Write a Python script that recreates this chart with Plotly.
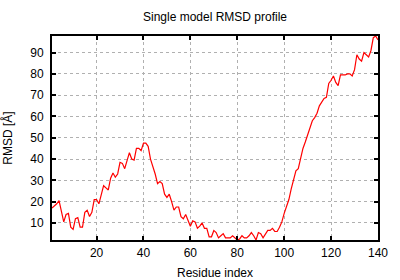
import plotly.graph_objects as go

residue = list(range(1, 141))
rmsd = [
    17.0, 18.0, 19.0, 20.5, 15.0, 10.5, 14.0, 14.5, 8.0, 7.0,
    12.0, 12.5, 8.0, 8.0, 15.0, 16.0, 13.0, 15.0, 21.0, 21.0,
    19.0, 23.0, 27.5, 26.5, 25.5, 31.0, 33.5, 31.5, 33.0, 38.5,
    38.0, 35.5, 39.0, 43.0, 40.0, 39.5, 45.0, 45.0, 44.0, 47.5,
    47.5, 46.0, 40.0, 37.0, 33.0, 28.5, 29.5, 28.5, 23.5, 22.0,
    23.5, 20.0, 16.0, 17.5, 17.5, 13.0, 12.0, 14.0, 11.5, 8.5,
    11.0, 10.5, 7.5, 8.5, 10.0, 7.5, 7.5, 3.5, 3.5, 6.5,
    5.5, 3.0, 4.0, 5.0, 3.0, 3.0, 3.0, 4.0, 3.0, 2.0,
    2.5, 4.0, 3.0, 3.0, 4.0, 5.5, 4.0, 2.0, 5.5, 5.0,
    3.0, 4.5, 6.5, 6.5, 7.5, 6.0, 6.0, 8.0, 10.5, 14.5,
    18.0, 21.0, 26.0, 31.0, 34.5, 35.5, 41.0, 45.0, 48.0, 51.0,
    55.0, 58.0, 59.5, 61.5, 65.0, 67.0, 68.5, 69.0, 75.5, 77.0,
    79.0, 76.0, 74.5, 79.5, 79.5, 79.5, 80.0, 80.0, 79.0, 82.0,
    89.0, 87.0, 86.0, 90.0, 89.0, 88.0, 91.0, 97.0, 97.8, 96.0,
]
x_ticks = [20, 40, 60, 80, 100, 120, 140]
y_ticks = [10, 20, 30, 40, 50, 60, 70, 80, 90]

font = "Liberation Sans, Arial, Helvetica, sans-serif"

fig = go.Figure()
fig.add_trace(go.Scatter(x=residue, y=rmsd, mode="lines",
                         line=dict(color="#ff0000", width=1.2),
                         showlegend=False, hoverinfo="skip"))

axis_common = dict(
    showline=True, linecolor="black", linewidth=2, mirror="allticks",
    ticks="inside", ticklen=4, tickwidth=1.5, tickcolor="black",
    showgrid=True, gridcolor="#b0b0b0", gridwidth=1, griddash="dot",
    zeroline=False, automargin=False,
    tickfont=dict(family=font, size=12, color="black"),
)

fig.update_layout(
    width=400, height=280,
    margin=dict(l=52, r=22, t=36, b=40),
    paper_bgcolor="white", plot_bgcolor="white",
    title=dict(text="Single model RMSD profile", x=0.5375, xanchor="center",
               y=0.94, yanchor="middle",
               font=dict(family=font, size=12, color="black")),
    xaxis=dict(range=[1, 140], tickvals=x_ticks, ticklabelstandoff=1,
               title=dict(text="Residue index",
                          font=dict(family=font, size=12, color="black")),
               **axis_common),
    yaxis=dict(range=[min(rmsd), max(rmsd)], tickvals=y_ticks,
               ticklabelstandoff=4,
               title=dict(text="RMSD [Å]",
                          font=dict(family=font, size=12, color="black")),
               **axis_common),
)

fig.write_html("out.html")
